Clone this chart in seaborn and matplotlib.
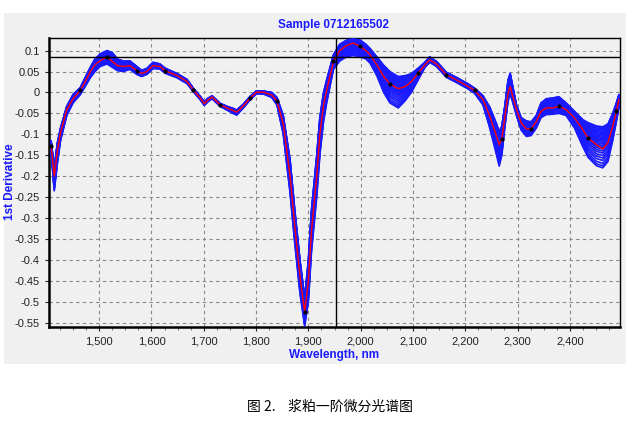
import numpy as np
import pandas as pd
import matplotlib
matplotlib.use('Agg')
import matplotlib.pyplot as plt
import seaborn as sns
from matplotlib.ticker import FuncFormatter, MultipleLocator
from matplotlib.patches import Rectangle

# wavelength grid (nm) and readings of the mean (red) curve plus the band of sample curves
nm = [1408, 1414, 1420, 1426, 1438, 1450, 1464, 1475, 1483, 1492, 1502, 1515, 1525, 1535,
      1546, 1559, 1572, 1581, 1591, 1603, 1616, 1626, 1649, 1668, 1680, 1693, 1701, 1708,
      1716, 1731, 1746, 1756, 1763, 1775, 1789, 1801, 1815, 1830, 1840, 1852, 1865, 1874,
      1884, 1893, 1900, 1906, 1916, 1922, 1929, 1935, 1948, 1960, 1973, 1986, 1999, 2010,
      2018, 2031, 2044, 2056, 2072, 2085, 2097, 2110, 2123, 2132, 2145, 2164, 2183, 2206,
      2218, 2234, 2247, 2260, 2265, 2270, 2276, 2282, 2286, 2290, 2298, 2307, 2317, 2326,
      2336, 2345, 2355, 2368, 2379, 2393, 2409, 2425, 2435, 2451, 2463, 2473, 2482, 2489,
      2494]
mean_val = [-0.127, -0.200, -0.140, -0.096, -0.041, -0.015, 0.005, 0.030, 0.050, 0.066, 0.076,
            0.085, 0.074, 0.064, 0.062, 0.064, 0.052, 0.045, 0.050, 0.064, 0.062, 0.052, 0.040,
            0.026, 0.006, -0.013, -0.027, -0.018, -0.011, -0.029, -0.038, -0.043, -0.047,
            -0.033, -0.013, 0.001, 0.000, -0.006, -0.021, -0.075, -0.200, -0.320, -0.440,
            -0.525, -0.450, -0.330, -0.200, -0.100, -0.030, 0.005, 0.074, 0.100, 0.112, 0.118,
            0.110, 0.100, 0.090, 0.066, 0.038, 0.020, 0.009, 0.014, 0.026, 0.046, 0.066, 0.078,
            0.068, 0.042, 0.030, 0.014, 0.005, -0.017, -0.057, -0.105, -0.125, -0.110, -0.057,
            -0.001, 0.014, -0.005, -0.041, -0.073, -0.087, -0.087, -0.069, -0.045, -0.037,
            -0.037, -0.033, -0.041, -0.061, -0.089, -0.109, -0.125, -0.135, -0.120, -0.081,
            -0.045, -0.017]
low_val = [-0.140, -0.235, -0.170, -0.115, -0.055, -0.025, -0.005, 0.018, 0.035, 0.050, 0.062,
           0.068, 0.060, 0.052, 0.050, 0.055, 0.043, 0.038, 0.043, 0.057, 0.056, 0.046, 0.035,
           0.021, 0.002, -0.017, -0.031, -0.022, -0.015, -0.033, -0.043, -0.050, -0.054,
           -0.038, -0.017, -0.003, -0.004, -0.012, -0.030, -0.100, -0.240, -0.360, -0.480,
           -0.558, -0.500, -0.380, -0.250, -0.150, -0.070, -0.025, 0.055, 0.075, 0.085, 0.088,
           0.085, 0.080, 0.070, 0.040, 0.000, -0.025, -0.037, -0.020, 0.000, 0.030, 0.060,
           0.072, 0.062, 0.036, 0.024, 0.008, -0.002, -0.030, -0.085, -0.150, -0.176, -0.150,
           -0.080, -0.020, -0.005, -0.020, -0.055, -0.090, -0.105, -0.103, -0.085, -0.060,
           -0.053, -0.052, -0.050, -0.055, -0.085, -0.130, -0.155, -0.175, -0.180, -0.165,
           -0.115, -0.070, -0.035]
high_val = [-0.115, -0.180, -0.120, -0.085, -0.033, -0.005, 0.012, 0.040, 0.060, 0.080, 0.092,
            0.100, 0.095, 0.080, 0.075, 0.075, 0.062, 0.053, 0.057, 0.072, 0.068, 0.058, 0.045,
            0.031, 0.010, -0.009, -0.023, -0.014, -0.008, -0.026, -0.034, -0.038, -0.042,
            -0.029, -0.009, 0.004, 0.003, 0.000, -0.012, -0.055, -0.160, -0.280, -0.400,
            -0.490, -0.400, -0.280, -0.150, -0.060, 0.000, 0.030, 0.090, 0.115, 0.125, 0.128,
            0.125, 0.115, 0.105, 0.085, 0.065, 0.050, 0.038, 0.040, 0.045, 0.058, 0.072, 0.085,
            0.074, 0.048, 0.036, 0.020, 0.010, -0.008, -0.035, -0.075, -0.093, -0.080, -0.030,
            0.030, 0.046, 0.020, -0.030, -0.060, -0.068, -0.070, -0.055, -0.025, -0.015,
            -0.013, -0.010, -0.025, -0.045, -0.065, -0.072, -0.080, -0.082, -0.075, -0.050,
            -0.025, -0.005]
# where each of the blue sample curves sits inside the band (0 = lowest, 1 = highest)
sample_pos = [0.0, 0.05, 0.11, 0.18, 0.24, 0.3, 0.36, 0.41, 0.46, 0.5, 0.54, 0.58, 0.62, 0.65,
              0.68, 0.71, 0.74, 0.77, 0.8, 0.83, 0.86, 0.89, 0.92, 0.95, 0.98, 1.0]
# black markers sit on the mean curve at these wavelengths
dot_nm = [1408, 1464, 1515, 1572, 1626, 1680, 1731, 1789, 1840, 1893, 1948, 1999, 2056,
          2110, 2164, 2218, 2270, 2326, 2379, 2435, 2489]

BLUE = '#1a1aff'
GRAY = '#f0f0f0'

spec = pd.DataFrame({'nm': nm, 'mean': mean_val, 'low': low_val, 'high': high_val})
rows = []
for i, p in enumerate(sample_pos):
    rows.append(pd.DataFrame({'nm': spec['nm'], 'sample': i,
                              'value': spec['low'] + p * (spec['high'] - spec['low'])}))
samples = pd.concat(rows, ignore_index=True)
dots = spec[spec['nm'].isin(dot_nm)]

sns.set_style('white')
plt.rcParams['font.family'] = ['Liberation Sans', 'DejaVu Sans']

fig = plt.figure(figsize=(6.37, 4.24), dpi=100)
fig.patches.append(Rectangle((4 / 637, 1 - 364 / 424), 622 / 637, 351 / 424,
                             transform=fig.transFigure, facecolor=GRAY, edgecolor='none', zorder=-10))
ax = fig.add_axes([49 / 637, 1 - 327 / 424, 571 / 637, 289 / 424])
ax.set_zorder(1)
ax.set_facecolor(GRAY)

sns.lineplot(data=samples, x='nm', y='value', units='sample', estimator=None,
             color=BLUE, lw=1.2, ax=ax, zorder=3)
sns.lineplot(data=spec, x='nm', y='mean', color='red', lw=1.0, ax=ax, zorder=4)
sns.scatterplot(data=dots, x='nm', y='mean', color='black', s=9, linewidth=0, ax=ax, zorder=5)

ax.axhline(0.084, color='black', lw=1.0, zorder=6)
ax.axvline(1952, color='black', lw=1.0, zorder=6)

ax.set_xlim(1404, 2496)
ax.set_ylim(-0.56, 0.13)
ax.xaxis.set_major_locator(MultipleLocator(100))
ax.xaxis.set_minor_locator(MultipleLocator(25))
ax.yaxis.set_major_locator(MultipleLocator(0.05))
ax.xaxis.set_major_formatter(FuncFormatter(lambda v, _: f'{v:,.0f}'))
ax.yaxis.set_major_formatter(FuncFormatter(lambda v, _: f'{round(v, 2):g}' if abs(v) > 1e-9 else '0'))
ax.tick_params(axis='both', labelsize=8, colors='#222222', length=3, direction='out')
ax.tick_params(axis='x', which='minor', length=2, colors='#555555')
ax.tick_params(axis='x', bottom=True, which='both')
ax.tick_params(axis='y', left=True)
ax.grid(True, which='major', color='#888888', ls=(0, (3, 3)), lw=0.8)
ax.set_axisbelow(True)
for side in ['left', 'bottom']:
    ax.spines[side].set_linewidth(1.8)
for side in ['top', 'right']:
    ax.spines[side].set_linewidth(1.0)
for s in ax.spines.values():
    s.set_color('black')

ax.set_xlabel('')
ax.set_ylabel('')
fig.text(334 / 637, 1 - 25 / 424, 'Sample 0712165502', color=BLUE, fontsize=8.5,
         fontweight='bold', ha='center', va='center')
fig.text(334 / 637, 1 - 355 / 424, 'Wavelength, nm', color=BLUE, fontsize=8.5,
         fontweight='bold', ha='center', va='center')
fig.text(10 / 637, 1 - 182 / 424, '1st Derivative', color=BLUE, fontsize=8.5,
         fontweight='bold', ha='center', va='center', rotation=90)
fig.text(330 / 637, 1 - 407 / 424, '图 2.    浆粕一阶微分光谱图', fontsize=10,
         family=['Noto Sans CJK SC', 'DejaVu Sans'], ha='center', va='center', color='black')

fig.savefig('out.png', dpi=100)
